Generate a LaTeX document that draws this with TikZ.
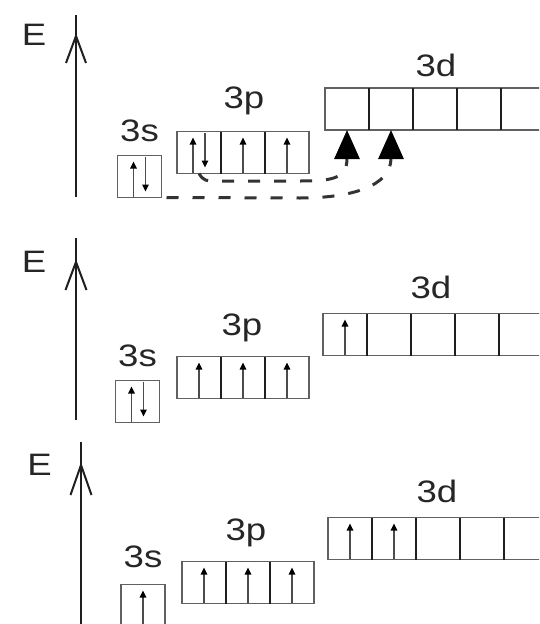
\documentclass[tikz,border=0pt]{standalone}
\usepackage{fontspec}
\setmainfont{Liberation Sans}
\usetikzlibrary{arrows.meta,calc}

\tikzset{
  cell/.style={draw=black!62, line width=1.7pt, minimum width=44pt,
    minimum height=42pt, inner sep=0pt, outer sep=0pt},
  divider/.style={draw=black!88, line width=2.4pt},
  espin/.style={draw=black!70, line width=1.1pt,
    -{Triangle[length=7pt,width=6.5pt,color=black]}},
  lbl/.style={anchor=base, inner sep=0pt, text=black!85,
    font=\fontsize{31}{31}\selectfont},
  axisline/.style={draw=black!88, line width=2.2pt},
  axishead/.style={draw=black!88, line width=2pt, line join=miter},
  jump/.style={draw=black!80, line width=3pt, dash pattern=on 12pt off 14pt,
    -{Triangle[length=29pt,width=25pt,color=black]}},
  pics/spinup/.style={code={\draw[espin] (#1,-20pt) -- (#1,15pt);}},
  pics/spindown/.style={code={\draw[espin] (#1,20pt) -- (#1,-15pt);}},
}
\newcommand\wlabel[1]{\scalebox{1.18}[1]{#1}}

\begin{document}
\begin{tikzpicture}[x=1pt,y=-1pt]
\useasboundingbox (0,0) rectangle (539,624);
\clip (0,0) rectangle (539,624);

% ---------- upper panel: before excitation ----------
\coordinate (ab1) at (76,197);
\coordinate (at1) at (76,15);
\draw[axisline] (ab1) -- (at1);
\draw[axishead] (66,63) -- (76,36) -- (86,63);
\node[lbl] (e1) at (34,45) {\wlabel{E}};

\node[cell] (s1) at (139.5,176.5) {};
\node[lbl] (ls1) at (139.5,141) {\wlabel{3s}};
\pic at (s1.center) {spinup=-6pt};
\pic at (s1.center) {spindown=6pt};

\node[cell] (p1a) at (199,152.5) {};
\node[cell,anchor=west] (p1b) at (p1a.east) {};
\node[cell,anchor=west] (p1c) at (p1b.east) {};
\draw[divider] (p1a.north east) -- (p1a.south east);
\draw[divider] (p1b.north east) -- (p1b.south east);
\node[lbl] (lp1) at (244,108) {\wlabel{3p}};
\pic at (p1a.center) {spinup=-6pt};
\pic at (p1a.center) {spindown=6pt};
\pic at (p1b.center) {spinup=0pt};
\pic at (p1c.center) {spinup=0pt};

\node[cell] (d1a) at (347,109) {};
\node[cell,anchor=west] (d1b) at (d1a.east) {};
\node[cell,anchor=west] (d1c) at (d1b.east) {};
\node[cell,anchor=west] (d1d) at (d1c.east) {};
\node[cell,anchor=west] (d1e) at (d1d.east) {};
\foreach \c in {d1a,d1b,d1c,d1d}
  \draw[divider] (\c.north east) -- (\c.south east);
\node[lbl] (ld1) at (436,76) {\wlabel{3d}};

% promotion paths into the empty 3d orbitals
\draw[jump] (s1.south east) ++(5pt,0pt) -- (300,198)
  .. controls (352,198) and (391,186) .. (d1b.south);
\draw[jump] (p1a.south) .. controls (204,181) .. (222,181) -- (300,181)
  .. controls (334,181) and (347,178) .. (d1a.south);

% ---------- middle panel: one electron promoted ----------
\coordinate (ab2) at (76,420);
\coordinate (at2) at (76,238);
\draw[axisline] (ab2) -- (at2);
\draw[axishead] (65.5,290) -- (76,262) -- (86.5,290);
\node[lbl] (e2) at (34,272) {\wlabel{E}};

\node[cell] (s2) at (137.5,401.5) {};
\node[lbl] (ls2) at (137.5,366) {\wlabel{3s}};
\pic at (s2.center) {spinup=-6pt};
\pic at (s2.center) {spindown=6pt};

\node[cell] (p2a) at (199,377.5) {};
\node[cell,anchor=west] (p2b) at (p2a.east) {};
\node[cell,anchor=west] (p2c) at (p2b.east) {};
\draw[divider] (p2a.north east) -- (p2a.south east);
\draw[divider] (p2b.north east) -- (p2b.south east);
\node[lbl] (lp2) at (242,335) {\wlabel{3p}};
\pic at (p2a.center) {spinup=0pt};
\pic at (p2b.center) {spinup=0pt};
\pic at (p2c.center) {spinup=0pt};

\node[cell] (d2a) at (345,334.5) {};
\node[cell,anchor=west] (d2b) at (d2a.east) {};
\node[cell,anchor=west] (d2c) at (d2b.east) {};
\node[cell,anchor=west] (d2d) at (d2c.east) {};
\node[cell,anchor=west] (d2e) at (d2d.east) {};
\foreach \c in {d2a,d2b,d2c,d2d}
  \draw[divider] (\c.north east) -- (\c.south east);
\node[lbl] (ld2) at (431,298) {\wlabel{3d}};
\pic at (d2a.center) {spinup=0pt};

% ---------- lower panel: two electrons promoted ----------
\coordinate (ab3) at (81,624);
\coordinate (at3) at (81,442);
\draw[axisline] (ab3) -- (at3);
\draw[axishead] (70.5,495) -- (81,465) -- (91.5,495);
\node[lbl] (e3) at (39.5,475) {\wlabel{E}};

\node[cell] (s3) at (143,605.5) {};
\node[lbl] (ls3) at (143,567) {\wlabel{3s}};
\pic at (s3.center) {spinup=0pt};

\node[cell] (p3a) at (204,582.5) {};
\node[cell,anchor=west] (p3b) at (p3a.east) {};
\node[cell,anchor=west] (p3c) at (p3b.east) {};
\draw[divider] (p3a.north east) -- (p3a.south east);
\draw[divider] (p3b.north east) -- (p3b.south east);
\node[lbl] (lp3) at (246,540) {\wlabel{3p}};
\pic at (p3a.center) {spinup=0pt};
\pic at (p3b.center) {spinup=0pt};
\pic at (p3c.center) {spinup=0pt};

\node[cell] (d3a) at (350,538.5) {};
\node[cell,anchor=west] (d3b) at (d3a.east) {};
\node[cell,anchor=west] (d3c) at (d3b.east) {};
\node[cell,anchor=west] (d3d) at (d3c.east) {};
\node[cell,anchor=west] (d3e) at (d3d.east) {};
\foreach \c in {d3a,d3b,d3c,d3d}
  \draw[divider] (\c.north east) -- (\c.south east);
\node[lbl] (ld3) at (437,502) {\wlabel{3d}};
\pic at (d3a.center) {spinup=0pt};
\pic at (d3b.center) {spinup=0pt};
\end{tikzpicture}
\end{document}
